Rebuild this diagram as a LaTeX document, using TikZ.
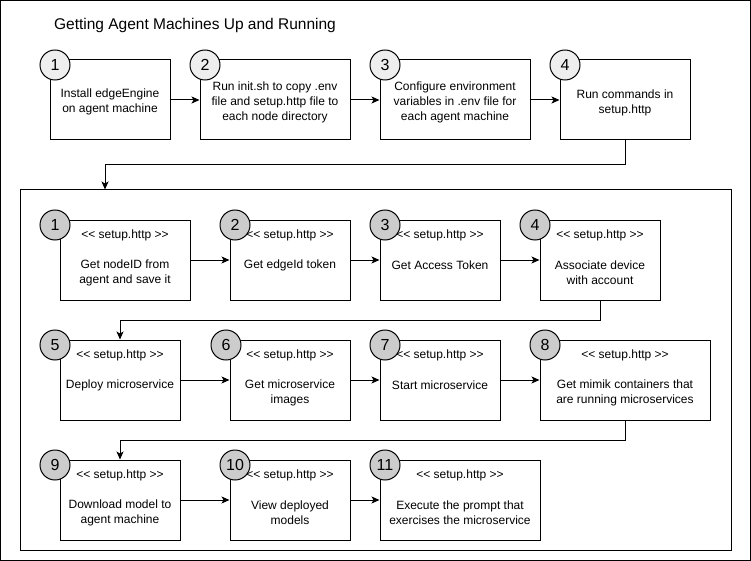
\documentclass[tikz,border=0pt]{standalone}
\usepackage{fontspec}
\setmainfont{Liberation Sans}
\usepackage{tikz}
\usetikzlibrary{arrows.meta}
\usepackage{xcolor}
\definecolor{numlight}{HTML}{EEEEEE}
\definecolor{numdark}{HTML}{CCCCCC}
\newcommand{\httphdr}{<{}< setup.http >{}>}

\begin{document}
\begin{tikzpicture}[x=1pt,y=-1pt,line width=1pt,>={Stealth[length=8pt,width=7pt,inset=2pt]}]
\useasboundingbox (0,0) rectangle (751,561);
\draw (0.5,0.5) rectangle (750,560);
\node[font=\fontsize{15.5}{18}\selectfont] (title) at (195,25) {Getting Agent Machines Up and Running};

\tikzstyle{stepbox}=[draw,fill=white,minimum height=80,inner sep=0pt]
\tikzstyle{hdr}=[inner sep=0pt,font=\fontsize{12}{14.5}\selectfont]
\tikzstyle{body}=[inner sep=0pt,align=center,font=\fontsize{12}{15}\selectfont]
\tikzstyle{num}=[circle,draw,minimum size=30,inner sep=0pt,font=\fontsize{16}{18}\selectfont]

% top row
\node[stepbox,minimum width=120] (t1) at (110,100) {};
\node[stepbox,minimum width=150] (t2) at (275,100) {};
\node[stepbox,minimum width=150] (t3) at (455,100) {};
\node[stepbox,minimum width=130] (t4) at (625,100) {};
\node[body] (tb1) at (110,102) {Install edgeEngine\\on agent machine};
\node[body] (tb2) at (275,102) {Run init.sh to copy .env\\file and setup.http file to\\each node directory};
\node[body] (tb3) at (455,102) {Configure environment\\variables in .env file for\\each agent machine};
\node[body] (tb4) at (625,103) {Run commands in\\setup.http};
\node[num,fill=numlight] (n1) at (55,65) {1};
\node[num,fill=numlight] (n2) at (205,65) {2};
\node[num,fill=numlight] (n3) at (385,65) {3};
\node[num,fill=numlight] (n4) at (565,65) {4};

\draw[->] (t1) to (t2);
\draw[->] (t2) to (t3);
\draw[->] (t3) to (t4);

\node[draw,minimum width=711,minimum height=360,inner sep=0pt] (inner) at (375.5,370) {};
\coordinate (j0) at (105,165);
\draw[->] (t4.south) |- (j0) -- (j0 |- inner.north);

% setup.http steps
\node[stepbox,minimum width=130] (s1) at (125,260) {};
\node[stepbox,minimum width=120] (s2) at (290,260) {};
\node[stepbox,minimum width=120] (s3) at (440,260) {};
\node[stepbox,minimum width=120] (s4) at (600,260) {};
\node[stepbox,minimum width=120] (s5) at (120,380) {};
\node[stepbox,minimum width=120] (s6) at (290,380) {};
\node[stepbox,minimum width=120] (s7) at (440,380) {};
\node[stepbox,minimum width=170] (s8) at (625,380) {};
\node[stepbox,minimum width=120] (s9) at (120,500) {};
\node[stepbox,minimum width=120] (s10) at (290,500) {};
\node[stepbox,minimum width=160] (s11) at (460,500) {};

\node[hdr] (h1) at (125,235) {\httphdr};
\node[hdr] (h2) at (290,235) {\httphdr};
\node[hdr] (h3) at (440,235) {\httphdr};
\node[hdr] (h4) at (600,235) {\httphdr};
\node[hdr] (h5) at (120,355) {\httphdr};
\node[hdr] (h6) at (290,355) {\httphdr};
\node[hdr] (h7) at (440,355) {\httphdr};
\node[hdr] (h8) at (625,355) {\httphdr};
\node[hdr] (h9) at (120,475) {\httphdr};
\node[hdr] (h10) at (290,475) {\httphdr};
\node[hdr] (h11) at (460,475) {\httphdr};

\node[body] (b1) at (125,272.5) {Get nodeID from\\agent and save it};
\node[body] (b2) at (290,265) {Get edgeId token};
\node[body] (b3) at (440,265) {Get Access Token};
\node[body] (b4) at (600,272.5) {Associate device\\with account};
\node[body] (b5) at (120,385) {Deploy microservice};
\node[body] (b6) at (290,392.5) {Get microservice\\images};
\node[body] (b7) at (440,385) {Start microservice};
\node[body] (b8) at (625,392.5) {Get mimik containers that\\are running microservices};
\node[body] (b9) at (120,512.5) {Download model to\\agent machine};
\node[body] (b10) at (290,512.5) {View deployed\\models};
\node[body] (b11) at (460,512.5) {Execute the prompt that\\exercises the microservice};

\node[num,fill=numdark] (m1) at (55,225) {1};
\node[num,fill=numdark] (m2) at (235,225) {2};
\node[num,fill=numdark] (m3) at (385,225) {3};
\node[num,fill=numdark] (m4) at (535,225) {4};
\node[num,fill=numdark] (m5) at (55,345) {5};
\node[num,fill=numdark] (m6) at (226,345) {6};
\node[num,fill=numdark] (m7) at (385,345) {7};
\node[num,fill=numdark] (m8) at (545,345) {8};
\node[num,fill=numdark] (m9) at (55,465) {9};
\node[num,fill=numdark] (m10) at (235,465) {10};
\node[num,fill=numdark] (m11) at (385,465) {11};

\draw[->] (s1) to (s2);
\draw[->] (s2) to (s3);
\draw[->] (s3) to (s4);
\coordinate (j1) at (120,320);
\draw[->] (s4.south) |- (j1) -- (s5.north);
\draw[->] (s5) to (s6);
\draw[->] (s6) to (s7);
\draw[->] (s7) to (s8);
\coordinate (j2) at (120,440);
\draw[->] (s8.south) |- (j2) -- (s9.north);
\draw[->] (s9) to (s10);
\draw[->] (s10) to (s11);
\end{tikzpicture}
\end{document}
